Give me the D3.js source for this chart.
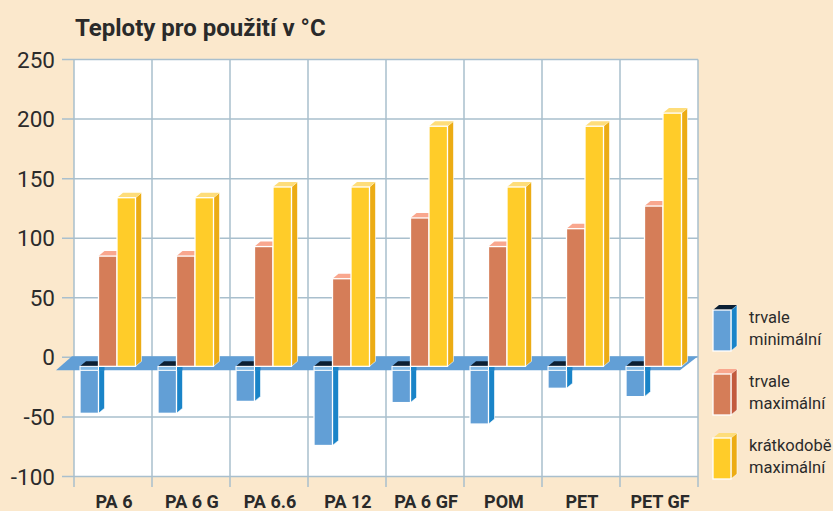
<!DOCTYPE html>
<html><head><meta charset="utf-8">
<script src="https://cdn.jsdelivr.net/npm/d3@7"></script>
<style>html,body{margin:0;padding:0;background:#fbe8cc}svg{display:block}text{font-family:Roboto,sans-serif}</style>
</head><body><svg id="c" width="833" height="511"></svg>
<script>
const categories=["PA 6","PA 6 G","PA 6.6","PA 12","PA 6 GF","POM","PET","PET GF"];
const seriesNames=[["trvale","minimální"],["trvale","maximální"],["krátkodobě","maximální"]];
const minValues=[-39,-39,-29,-66,-30,-48,-18,-25];
const maxValues=[85,85,93,66,117,93,108,127];
const shortValues=[134,134,143,143,194,143,194,205];
const yTicks=[250,200,150,100,50,0,-50,-100];
const title="Teploty pro použití v °C";

const front=["#629fd6","#d57d58","#ffcc29"],side=["#1a84c8","#c25a3d","#ecac14"],cap=["#0b1f33","#f9a78e","#fedd7a"];
const svg=d3.select("#c");
const y=d3.scaleLinear().domain([-100,250]).range([476.5,59.5]);
const x=d3.scaleBand().domain(categories).range([74,698]);
const inner=d3.scaleBand().domain([0,1,2]).range([6,61.5]);
const gridC="#a9bfcd", dx=6, dy=5, base=y(0)+9, negShift=9.5;

svg.append("rect").attr("x",74).attr("y",y(250)).attr("width",624).attr("height",y(-100)-y(250)).attr("fill","#fff");
svg.append("g").selectAll("line").data(yTicks).join("line")
 .attr("x1",62).attr("x2",698).attr("y1",d=>y(d)).attr("y2",d=>y(d)).attr("stroke",gridC).attr("stroke-width",1.5);
const vl=categories.map(c=>x(c)).concat([x.range()[1]]);
svg.append("g").selectAll("line").data(vl).join("line")
 .attr("x1",d=>d).attr("x2",d=>d).attr("y1",y(250)).attr("y2",487).attr("stroke",gridC).attr("stroke-width",1.5);
svg.append("g").selectAll("text").data(yTicks).join("text")
 .attr("x",55).attr("y",d=>y(d)+8).attr("text-anchor","end").attr("font-size",22.5).attr("fill","#2b2b2b").text(d=>d);
svg.append("text").attr("x",75).attr("y",36).attr("font-size",24).attr("font-weight",700).attr("fill","#2a2a2a").text(title);
svg.append("g").selectAll("text").data(categories).join("text")
 .attr("x",d=>x(d)+x.bandwidth()/2+1).attr("y",508).attr("text-anchor","middle").attr("font-size",18).attr("font-weight",700).attr("fill","#2a2a2a").text(d=>d);

function box(g,bx,w,top,bot,i){
  g.append("polygon").attr("points",[[bx+w,top],[bx+w+dx,top-dy],[bx+w+dx,bot-dy],[bx+w,bot]].join(" ")).attr("fill",side[i]).attr("stroke","#fff").attr("stroke-width",.6);
  g.append("polygon").attr("points",[[bx,top],[bx+dx,top-dy],[bx+w+dx,top-dy],[bx+w,top]].join(" ")).attr("fill",cap[i]);
  g.append("rect").attr("x",bx).attr("y",top).attr("width",w).attr("height",bot-top).attr("fill",front[i]).attr("stroke","#fff").attr("stroke-width",1.3);
}
const gNeg=svg.append("g");
categories.forEach((c,k)=>box(gNeg,x(c)+inner(0),inner.bandwidth(),base,y(minValues[k])+negShift,0));
const fl=y(0)+13;
svg.append("polygon").attr("points",[[72,y(0)-1],[698,y(0)-1],[680,fl],[56,fl]].join(" ")).attr("fill","#629fd6");
categories.forEach((c,k)=>{
  const bx=x(c)+inner(0),w=inner.bandwidth();
  svg.append("polygon").attr("points",[[bx,base],[bx+dx,base-dy],[bx+w+dx,base-dy],[bx+w,base]].join(" ")).attr("fill",cap[0]);
  svg.append("rect").attr("x",bx+w).attr("y",base-2).attr("width",dx).attr("height",fl-base+2).attr("fill",side[0]);
  svg.append("rect").attr("x",bx).attr("y",base).attr("width",w).attr("height",fl-base).attr("fill","#82bbe8").attr("stroke","#fff").attr("stroke-width",1);
});
const gPos=svg.append("g");
categories.forEach((c,k)=>{
  box(gPos,x(c)+inner(1),inner.bandwidth(),y(maxValues[k]),base,1);
  box(gPos,x(c)+inner(2),inner.bandwidth(),y(shortValues[k]),base,2);
});
const legY=[310,374,438];
seriesNames.forEach((n,i)=>{
  const g=svg.append("g");
  const ly=d3.scaleLinear().domain([0,1]).range([legY[i],legY[i]+41]);
  box(g,713,18,ly(0),ly(1),i);
  g.append("text").attr("x",749).attr("y",legY[i]+13).attr("font-size",16.5).attr("fill","#2b2b2b").text(n[0]);
  g.append("text").attr("x",749).attr("y",legY[i]+35).attr("font-size",16.5).attr("fill","#2b2b2b").text(n[1]);
});
</script></body></html>
